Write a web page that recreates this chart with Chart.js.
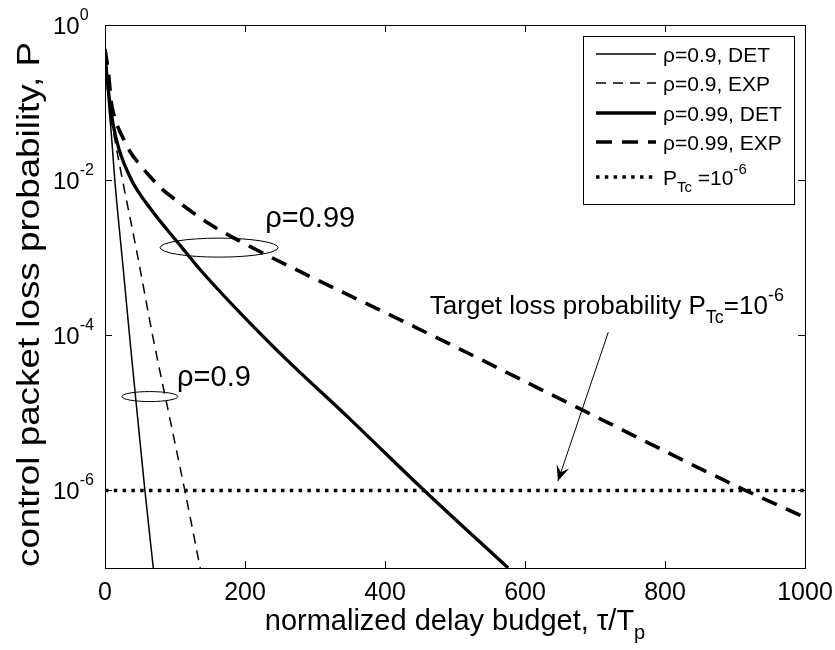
<!DOCTYPE html>
<html>
<head>
<meta charset="utf-8">
<script src="https://cdn.jsdelivr.net/npm/chart.js@4"></script>
<style>
  html, body { margin: 0; padding: 0; background: #fff; }
</style>
</head>
<body>
<canvas id="chart" width="835" height="650"></canvas>
<script>
// values (tau/Tp, loss probability)
const tau09Det = [0, 2, 5, 9, 14, 25, 37, 47, 57, 69];
const p09Det = [0.49, 0.25, 0.1, 0.04, 0.01, 9e-4, 6.5e-5, 8e-6, 1e-6, 1e-7];

const tau09Exp = [0, 3, 8, 15, 25, 45, 69, 92, 114, 136];
const p09Exp = [0.49, 0.2, 0.07, 0.03, 0.01, 1.25e-3, 9e-5, 9e-6, 1e-6, 1e-7];

const tau099Det = [0, 3, 7, 12, 20, 38, 64, 110, 136, 240, 350, 456, 576];
const p099Det = [0.49, 0.2, 0.1, 0.05, 0.025, 0.01, 4.4e-3, 1.35e-3, 7e-4, 7.2e-5, 8.3e-6, 1e-6, 1e-7];

const tau099Exp = [0, 5, 9, 14, 20, 28, 37, 50, 64, 82, 103, 150, 207, 279, 445, 681, 910, 1000];
const p099Exp = [0.49, 0.24, 0.1, 0.063, 0.045, 0.032, 0.0224, 0.0158, 0.0112, 7.6e-3, 5.4e-3, 2.7e-3, 1.4e-3, 6.6e-4, 1.25e-4, 1.1e-5, 1.05e-6, 4.5e-7];

const tauTarget = [0, 1000];
const pTarget = [1e-6, 1e-6];

const xTicks = [0, 200, 400, 600, 800, 1000];
const yTickExps = [0, -2, -4, -6];
const seriesLabels = ['ρ=0.9, DET', 'ρ=0.9, EXP', 'ρ=0.99, DET', 'ρ=0.99, EXP'];

const FONT = '"Liberation Sans", Arial, Helvetica, sans-serif';

function pts(xs, ys) {
  return xs.map((x, i) => ({ x: x, y: ys[i] }));
}

function lineSet(label, xs, ys, width, dash) {
  return {
    label: label,
    data: pts(xs, ys),
    borderColor: '#000',
    borderWidth: width,
    borderDash: dash,
    borderCapStyle: 'butt',
    pointRadius: 0,
    fill: false,
    cubicInterpolationMode: 'monotone',
  };
}

// parts: [text, size, dy]
function richWidth(ctx, parts) {
  let w = 0;
  parts.forEach((p) => {
    ctx.font = p[1] + 'px ' + FONT;
    w += ctx.measureText(p[0]).width;
  });
  return w;
}

function drawRich(ctx, parts, x, y, align) {
  const w = richWidth(ctx, parts);
  let cx = x;
  if (align === 'center') cx = x - w / 2;
  if (align === 'right') cx = x - w;
  ctx.textAlign = 'left';
  ctx.textBaseline = 'alphabetic';
  parts.forEach((p) => {
    ctx.font = p[1] + 'px ' + FONT;
    ctx.fillText(p[0], cx, y + p[2]);
    cx += ctx.measureText(p[0]).width;
  });
}

const axesPlugin = {
  id: 'matlabAxes',
  afterDatasetsDraw(chart) {
    const ctx = chart.ctx;
    const a = chart.chartArea;
    const sx = chart.scales.x;
    const sy = chart.scales.y;
    const tick = 7;

    ctx.save();
    ctx.strokeStyle = '#000';
    ctx.fillStyle = '#000';
    ctx.lineWidth = 1;
    ctx.strokeRect(Math.round(a.left) + 0.5, Math.round(a.top) + 0.5,
      Math.round(a.right - a.left), Math.round(a.bottom - a.top));

    ctx.beginPath();
    xTicks.forEach((v) => {
      const px = Math.round(sx.getPixelForValue(v)) + 0.5;
      ctx.moveTo(px, a.bottom); ctx.lineTo(px, a.bottom - tick);
      ctx.moveTo(px, a.top); ctx.lineTo(px, a.top + tick);
    });
    yTickExps.forEach((e) => {
      const py = Math.round(sy.getPixelForValue(Math.pow(10, e))) + 0.5;
      ctx.moveTo(a.left, py); ctx.lineTo(a.left + tick, py);
      ctx.moveTo(a.right, py); ctx.lineTo(a.right - tick, py);
    });
    ctx.stroke();

    xTicks.forEach((v) => {
      drawRich(ctx, [[String(v), 25, 0]], sx.getPixelForValue(v), a.bottom + 32, 'center');
    });
    yTickExps.forEach((e) => {
      const py = sy.getPixelForValue(Math.pow(10, e));
      drawRich(ctx, [['10', 24, 0], [String(e), 16, -14]], a.left - 52, py + 9, 'left');
    });

    drawRich(ctx, [['normalized delay budget, τ/T', 29, 0], ['p', 20, 9]],
      (a.left + a.right) / 2, a.bottom + 62, 'center');

    // the y title in the figure is drawn wider than the plain font
    ctx.save();
    ctx.translate(39, (a.top + a.bottom) / 2 + 8);
    ctx.rotate(-Math.PI / 2);
    ctx.scale(1.15, 1);
    drawRich(ctx, [['control packet loss probability, P', 32, 0]], 0, 0, 'center');
    ctx.restore();
    ctx.restore();
  },
};

// annotation anchors in data units (tau, P); sizes in px
const ellipse099 = { x: 163, y: Math.pow(10, -2.87), rx: 59, ry: 9.5 };
const ellipse09 = { x: 64, y: Math.pow(10, -4.79), rx: 28, ry: 5 };
const label099 = { x: 229, y: Math.pow(10, -2.61), text: 'ρ=0.99' };
const label09 = { x: 103, y: Math.pow(10, -4.65), text: 'ρ=0.9' };
const targetLabel = { x: 464, y: Math.pow(10, -3.73) };
const arrowFrom = { x: 719, y: Math.pow(10, -3.96) };
const arrowTo = { x: 647, y: Math.pow(10, -5.88) };

const annotationPlugin = {
  id: 'notes',
  afterDatasetsDraw(chart) {
    const ctx = chart.ctx;
    const sx = chart.scales.x;
    const sy = chart.scales.y;
    const px = (p) => [sx.getPixelForValue(p.x), sy.getPixelForValue(p.y)];

    ctx.save();
    ctx.strokeStyle = '#000';
    ctx.fillStyle = '#000';
    ctx.lineWidth = 1;

    [ellipse099, ellipse09].forEach((e) => {
      const c = px(e);
      ctx.beginPath();
      ctx.ellipse(c[0], c[1], e.rx, e.ry, 0, 0, Math.PI * 2);
      ctx.stroke();
    });

    let p = px(label099);
    drawRich(ctx, [[label099.text, 29, 0]], p[0], p[1], 'left');
    p = px(label09);
    drawRich(ctx, [[label09.text, 29, 0]], p[0], p[1], 'left');

    p = px(targetLabel);
    drawRich(ctx, [['Target loss probability P', 26, 0], ['Tc', 18, 9], ['=10', 26, 0], ['-6', 18, -13]],
      p[0], p[1], 'left');

    const f = px(arrowFrom);
    const t = px(arrowTo);
    const ang = Math.atan2(t[1] - f[1], t[0] - f[0]);
    ctx.beginPath();
    ctx.moveTo(f[0], f[1]);
    ctx.lineTo(t[0], t[1]);
    ctx.stroke();
    const len = 17;
    const spread = 0.4;
    ctx.beginPath();
    ctx.moveTo(t[0], t[1]);
    ctx.lineTo(t[0] - len * Math.cos(ang - spread), t[1] - len * Math.sin(ang - spread));
    ctx.lineTo(t[0] - len * 0.55 * Math.cos(ang), t[1] - len * 0.55 * Math.sin(ang));
    ctx.lineTo(t[0] - len * Math.cos(ang + spread), t[1] - len * Math.sin(ang + spread));
    ctx.closePath();
    ctx.fill();
    ctx.restore();
  },
};

const legendPlugin = {
  id: 'boxLegend',
  afterDraw(chart) {
    const ctx = chart.ctx;
    const a = chart.chartArea;
    const box = { x: a.right - 222, y: a.top + 11, w: 211, h: 168 };
    const rows = [18, 47, 77, 106, 141];

    ctx.save();
    ctx.fillStyle = '#fff';
    ctx.fillRect(box.x, box.y, box.w, box.h);
    ctx.strokeStyle = '#000';
    ctx.lineWidth = 1;
    ctx.strokeRect(Math.round(box.x) + 0.5, Math.round(box.y) + 0.5, box.w, box.h);

    chart.data.datasets.forEach((ds, i) => {
      const y = box.y + rows[i];
      ctx.beginPath();
      ctx.lineWidth = ds.borderWidth;
      ctx.setLineDash(ds.borderDash || []);
      ctx.lineCap = 'butt';
      ctx.moveTo(box.x + 13, y);
      ctx.lineTo(box.x + 73, y);
      ctx.stroke();
      ctx.setLineDash([]);
      ctx.fillStyle = '#000';
      if (i < seriesLabels.length) {
        drawRich(ctx, [[seriesLabels[i], 21, 0]], box.x + 80, y + 8, 'left');
      } else {
        drawRich(ctx, [['P', 21, 0], ['Tc', 15, 7], [' =10', 21, 0], ['-6', 15, -11]],
          box.x + 80, y + 8, 'left');
      }
    });
    ctx.restore();
  },
};

new Chart(document.getElementById('chart').getContext('2d'), {
  type: 'line',
  data: {
    datasets: [
      lineSet(seriesLabels[0], tau09Det, p09Det, 1.5, []),
      lineSet(seriesLabels[1], tau09Exp, p09Exp, 1.5, [10, 7]),
      lineSet(seriesLabels[2], tau099Det, p099Det, 3.3, []),
      lineSet(seriesLabels[3], tau099Exp, p099Exp, 3.6, [16, 10]),
      Object.assign(lineSet('target', tauTarget, pTarget, 3.6, [3.5, 5.3]), { cubicInterpolationMode: 'default', tension: 0 }),
    ],
  },
  options: {
    responsive: false,
    animation: false,
    layout: { padding: { left: 105, top: 25, right: 30, bottom: 82 } },
    scales: {
      x: { type: 'linear', min: 0, max: 1000, display: false },
      y: { type: 'logarithmic', min: 1e-7, max: 1, display: false },
    },
    plugins: {
      legend: { display: false },
      tooltip: { enabled: false },
    },
  },
  plugins: [axesPlugin, annotationPlugin, legendPlugin],
});
</script>
</body>
</html>
